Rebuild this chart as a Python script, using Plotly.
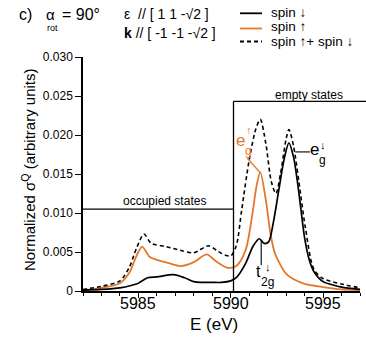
import plotly.graph_objects as go

# spin down (black)
e_down = [5982, 5983, 5984, 5984.6, 5985, 5985.5, 5986, 5986.9, 5987.5, 5988, 5988.5, 5989,
          5989.5, 5990, 5990.3, 5990.8, 5991.2, 5991.55, 5991.8, 5992.05, 5992.3, 5992.6,
          5992.9, 5993.15, 5993.4, 5993.6, 5993.8, 5994, 5994.25, 5994.5, 5995, 5995.5, 5996, 5997]
v_down = [0.0001, 0.0002, 0.0004, 0.0007, 0.0010, 0.0017, 0.0018, 0.0021, 0.0017, 0.0012, 0.0011, 0.0011,
          0.0011, 0.0013, 0.0017, 0.0035, 0.0057, 0.0067, 0.0061, 0.0063, 0.0087, 0.0129,
          0.0170, 0.0190, 0.0172, 0.0142, 0.0105, 0.0068, 0.0040, 0.0025, 0.0012, 0.0008, 0.0005, 0.0002]

# spin up (orange)
e_up = [5982, 5983, 5984, 5984.5, 5984.9, 5985.2, 5985.6, 5986, 5986.6, 5987.3, 5988, 5988.7,
        5989.2, 5989.8, 5990.3, 5990.8, 5991.15, 5991.4, 5991.6, 5991.9, 5992.15, 5992.4,
        5993, 5993.5, 5994, 5995, 5996, 5997]
v_up = [0.0001, 0.0004, 0.0010, 0.0023, 0.0045, 0.0057, 0.0044, 0.0040, 0.0036, 0.0032, 0.0037, 0.0047,
        0.0038, 0.0030, 0.0032, 0.0052, 0.0095, 0.0135, 0.0152, 0.0117, 0.0074, 0.0048,
        0.0022, 0.0014, 0.0009, 0.0005, 0.0002, 0.0001]

# spin up + spin down (dashed)
e_sum = [5982, 5983, 5984, 5984.5, 5984.9, 5985.3, 5985.7, 5986.5, 5987.3, 5988, 5988.8, 5989.3,
         5989.7, 5990, 5990.3, 5990.6, 5991.0, 5991.35, 5991.6, 5991.9, 5992.2, 5992.45, 5992.7,
         5993.0, 5993.15, 5993.4, 5993.8, 5994.05, 5994.5, 5995, 5996, 5997]
v_sum = [0.0002, 0.0006, 0.0013, 0.0030, 0.0055, 0.0073, 0.0061, 0.0057, 0.0052, 0.0049, 0.0058, 0.0051,
         0.0046, 0.0045, 0.0058, 0.0105, 0.0168, 0.0207, 0.0220, 0.0189, 0.0140, 0.0125, 0.0151,
         0.0195, 0.0207, 0.0186, 0.0121, 0.0080, 0.0028, 0.0016, 0.0009, 0.0004]

y_ticks = [0, 0.005, 0.010, 0.015, 0.020, 0.025, 0.030]
y_ticktext = ["0", "0.005", "0.010", "0.015", "0.020", "0.025", "0.030"]
x_ticks = [5985, 5990, 5995]

e_fermi = 5990.15
occupied_level = 0.0105
empty_level = 0.0243

ORANGE = "#E3782D"
FONT = "Liberation Sans, Arial, sans-serif"

W, H = 366, 338
L, R, T, B = 83, 6, 57, 47


def px_x(px):
    return (px - L) / (W - L - R)


def px_y(py):
    return (H - B - py) / (H - T - B)


fig = go.Figure()
fig.add_trace(go.Scatter(x=e_up, y=v_up, mode="lines", name="spin ↑",
                         line=dict(color=ORANGE, width=1.8, shape="spline", smoothing=0.8)))
fig.add_trace(go.Scatter(x=e_down, y=v_down, mode="lines", name="spin ↓",
                         line=dict(color="black", width=1.7, shape="spline", smoothing=0.8)))
fig.add_trace(go.Scatter(x=e_sum, y=v_sum, mode="lines", name="spin ↑+ spin ↓",
                         line=dict(color="black", width=1.6, dash="4px,3px", shape="spline", smoothing=0.8)))

shapes = [
    # occupied / empty states markers
    dict(type="line", xref="x", yref="y", x0=5982, x1=e_fermi, y0=occupied_level, y1=occupied_level,
         line=dict(color="black", width=1.3)),
    dict(type="line", xref="x", yref="y", x0=e_fermi, x1=e_fermi, y0=0, y1=empty_level,
         line=dict(color="black", width=1.3)),
    dict(type="line", xref="paper", yref="y", x0=px_x(233.3), x1=px_x(366), y0=empty_level, y1=empty_level,
         line=dict(color="black", width=1.3)),
    # pointers
    dict(type="line", xref="x", yref="y", x0=5990.90, x1=5991.62, y0=0.01702, y1=0.01509,
         line=dict(color=ORANGE, width=1.3)),
    dict(type="line", xref="x", yref="y", x0=5993.50, x1=5994.29, y0=0.01783, y1=0.01783,
         line=dict(color="black", width=1.1)),
    dict(type="line", xref="x", yref="y", x0=5991.65, x1=5991.65, y0=0.00652, y1=0.0033,
         line=dict(color="black", width=1.1)),
]

# manual legend
legend_rows = [("spin ↓", "black", "solid", 13.3, 12.5),
               ("spin ↑", ORANGE, "solid", 28.5, 26.5),
               ("spin ↑+ spin ↓", "black", "4px,3px", 41.5, 41.5)]
annotations = []
for label, color, dash, ly, ty in legend_rows:
    shapes.append(dict(type="line", xref="paper", yref="paper", x0=px_x(240), x1=px_x(262),
                       y0=px_y(ly), y1=px_y(ly), line=dict(color=color, width=1.8, dash=dash)))
    annotations.append(dict(xref="paper", yref="paper", x=px_x(269), y=px_y(ty), text=label,
                            showarrow=False, xanchor="left", yanchor="middle",
                            font=dict(size=13.5, color="black", family=FONT)))


def note(text, x, y, size=12, color="black", anchor="center"):
    annotations.append(dict(xref="paper", yref="paper", x=px_x(x), y=px_y(y), text=text,
                            showarrow=False, xanchor=anchor, yanchor="middle",
                            font=dict(size=size, color=color, family=FONT)))


# header
note("c)", 25, 15, size=16)
note("α", 50, 14, size=15)
note("rot", 52, 28.5, size=9)
note("= 90°", 60, 14, size=16, anchor="left")
note("ε  // [ 1 1 -√2 ]", 122, 14, size=14, anchor="left")
note("<b>k</b> // [ -1 -1 -√2 ]", 122, 33, size=14, anchor="left")

# state labels
note("occupied states", 164, 200.5, size=12)
note("empty states", 309, 95, size=12)
note("e", 240.7, 140, size=17, color=ORANGE)
note("↑", 248.5, 130, size=11, color=ORANGE)
note("g", 248.5, 151, size=12, color=ORANGE)
note("e", 314.5, 149, size=17)
note("↓", 322.5, 145, size=11)
note("g", 322.5, 160, size=12)
note("t", 258.5, 271, size=16)
note("↓", 267.5, 267, size=11)
note("2g", 267, 282, size=12)

# x tick labels placed close to the axis, as in the reference
for xv in x_ticks:
    annotations.append(dict(xref="x", yref="paper", x=xv, y=px_y(303), text=str(xv),
                            showarrow=False, xanchor="center", yanchor="middle",
                            font=dict(size=16, color="black", family=FONT)))

# axis titles
note("E (eV)", 214, 324, size=17)
annotations.append(dict(xref="paper", yref="paper", x=px_x(28), y=px_y(170), textangle=-90,
                        text="Normalized σ<sup>Q</sup> (arbitrary units)", showarrow=False,
                        xanchor="center", yanchor="middle",
                        font=dict(size=15, color="black", family=FONT)))

fig.update_layout(
    width=W, height=H,
    margin=dict(l=L, r=R, t=T, b=B, pad=0),
    paper_bgcolor="white", plot_bgcolor="white",
    showlegend=False,
    font=dict(family=FONT, color="black"),
    shapes=shapes,
    annotations=annotations,
)
fig.update_xaxes(range=[5982, 5997], tickvals=x_ticks, showticklabels=False, ticks="outside", ticklen=5,
                 tickwidth=1.2, tickcolor="black", showline=True, linecolor="black", linewidth=1.5,
                 showgrid=False, zeroline=False,
                 minor=dict(dtick=1, ticks="outside", ticklen=3, tickwidth=1, tickcolor="black"))
fig.update_yaxes(range=[0, 0.030], tickvals=y_ticks, ticktext=y_ticktext, ticks="outside", ticklen=6,
                 tickwidth=1.2, tickcolor="black", showline=True, linecolor="black", linewidth=1.5,
                 showgrid=False, zeroline=False, tickfont=dict(size=12, family=FONT))

fig.write_html("out.html", config={"displayModeBar": False},
               post_script="document.body.style.margin='0';")
